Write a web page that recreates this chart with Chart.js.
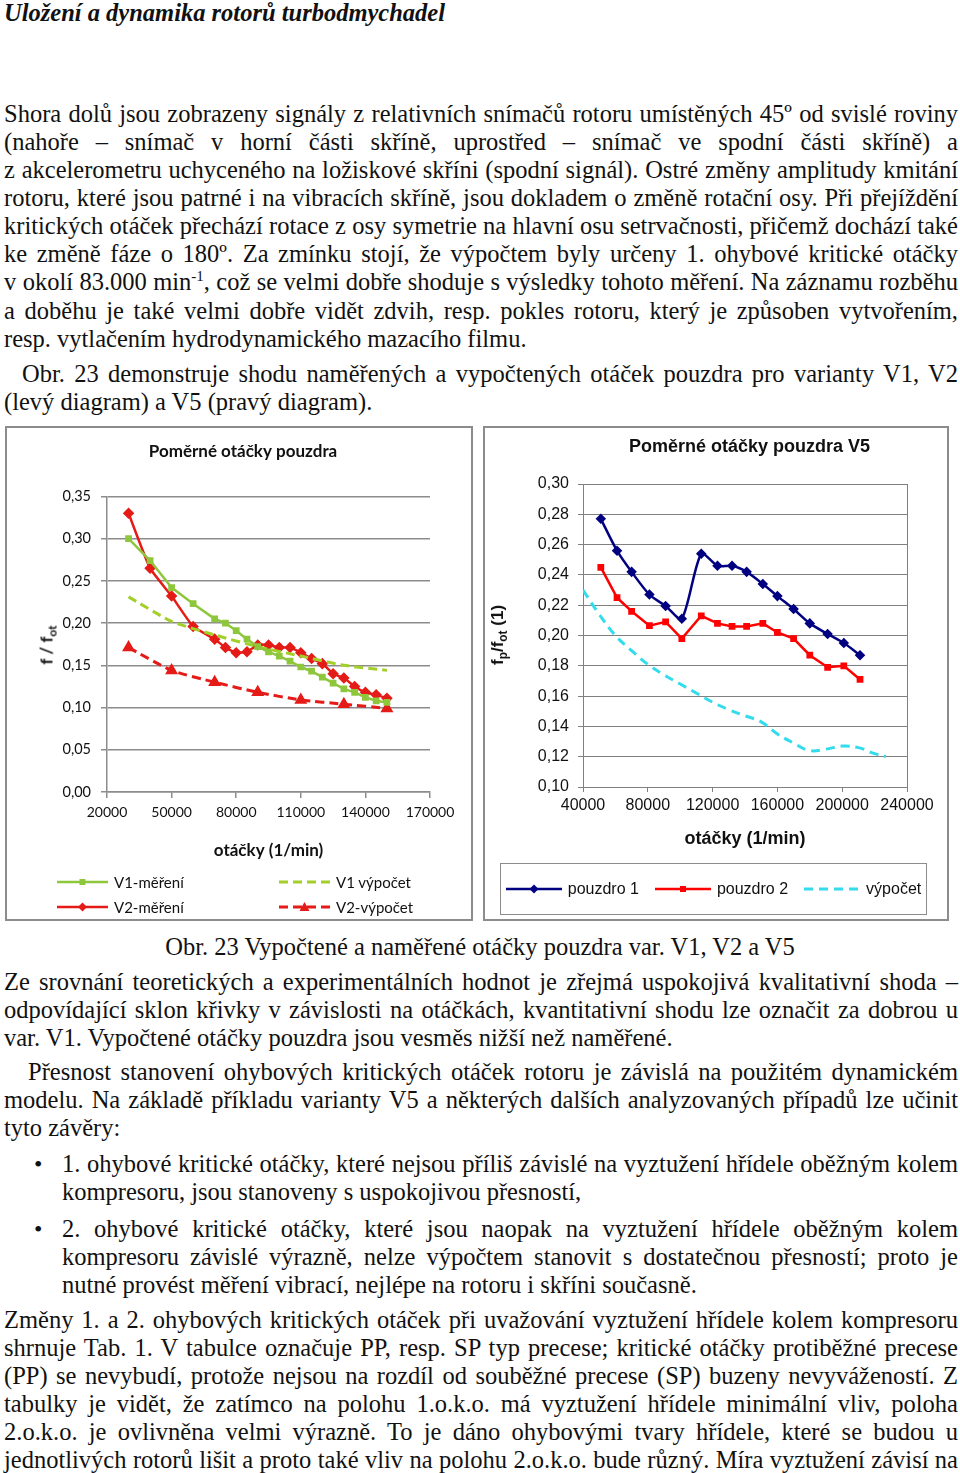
<!DOCTYPE html>
<html lang="cs">
<head>
<meta charset="utf-8">
<title>Poměrné otáčky pouzdra</title>
<script src="https://cdn.jsdelivr.net/npm/chart.js@4.4.1/dist/chart.umd.min.js"></script>
<style>
  html, body { margin: 0; padding: 0; background: #fff; }
  body { width: 960px; height: 1473px; position: relative; overflow: hidden;
         font-family: "Liberation Serif", "Times New Roman", serif; font-size: 24.5px; color: #111; }
  .ln { position: absolute; left: 4px; width: 954px; height: 28px; line-height: 28px; white-space: nowrap; }
  .j { text-align: justify; text-align-last: justify; white-space: normal; }
  .ln sup { font-size: 15px; line-height: 0; vertical-align: 9px; }
  .h1 { font-weight: bold; font-style: italic; top: -1px; }
  .bul { position: absolute; left: 34px; font-size: 24px; line-height: 28px; }
  .frame { position: absolute; box-sizing: border-box; border: 2px solid #8c8c8c; background: #fff; }
  canvas { position: absolute; }
  .ytitle { position: absolute; transform: translate(-50%, -50%) rotate(-90deg); white-space: nowrap; font-weight: bold; }
  .ytitle sub { font-size: 70%; vertical-align: -4px; line-height: 0; }
  #legendL { position: absolute; left: 57px; top: 869px; display: grid;
             grid-template-columns: 222px 200px; grid-auto-rows: 25px;
             font-family: Lato, sans-serif; font-size: 15px; color: #111; }
  #legendR { position: absolute; left: 500px; top: 863px; width: 427px; height: 52px; box-sizing: border-box;
             border: 1px solid #8c8c8c; display: flex; align-items: center; justify-content: center; gap: 16px;
             font-family: "Liberation Sans", Arial, sans-serif; font-size: 16px; color: #111; }
  .item { display: flex; align-items: center; gap: 6px; white-space: nowrap; }
  .item svg { display: block; }
</style>
</head>
<body>

<div class="ln h1">Uložení a dynamika rotorů turbodmychadel</div>

<div class="ln j" style="top:100px">Shora dolů jsou zobrazeny signály z relativních snímačů rotoru umístěných 45º od svislé roviny</div>
<div class="ln j" style="top:128px">(nahoře – snímač v horní části skříně, uprostřed – snímač ve spodní části skříně) a</div>
<div class="ln j" style="top:156px">z akcelerometru uchyceného na ložiskové skříni (spodní signál). Ostré změny amplitudy kmitání</div>
<div class="ln j" style="top:184px">rotoru, které jsou patrné i na vibracích skříně, jsou dokladem o změně rotační osy. Při přejíždění</div>
<div class="ln j" style="top:212px">kritických otáček přechází rotace z osy symetrie na hlavní osu setrvačnosti, přičemž dochází také</div>
<div class="ln j" style="top:240px">ke změně fáze o 180º. Za zmínku stojí, že výpočtem byly určeny 1. ohybové kritické otáčky</div>
<div class="ln j" style="top:268px">v okolí 83.000 min<sup>-1</sup>, což se velmi dobře shoduje s výsledky tohoto měření. Na záznamu rozběhu</div>
<div class="ln j" style="top:297px">a doběhu je také velmi dobře vidět zdvih, resp. pokles rotoru, který je způsoben vytvořením,</div>
<div class="ln" style="top:325px">resp. vytlačením hydrodynamického mazacího filmu.</div>
<div class="ln j" style="top:360px; left:22px; width:936px">Obr. 23 demonstruje shodu naměřených a vypočtených otáček pouzdra pro varianty V1, V2</div>
<div class="ln" style="top:388px">(levý diagram) a V5 (pravý diagram).</div>

<div class="frame" style="left:5px; top:426px; width:468px; height:495px"></div>
<div class="frame" style="left:483px; top:426px; width:466px; height:495px"></div>
<canvas id="chartL" width="460" height="440" style="left:8px; top:430px"></canvas>
<canvas id="chartR" width="476" height="430" style="left:486px; top:430px"></canvas>
<div class="ytitle" style="left:46px; top:645px; font-family:Lato, sans-serif; font-size:17px">f / f<sub>ot</sub></div>
<div class="ytitle" style="left:498px; top:635px; font-family:'Liberation Sans', Arial, sans-serif; font-size:17px">f<sub>p</sub>/f<sub>ot</sub> (1)</div>
<div id="legendL"></div>
<div id="legendR"></div>

<div class="ln" style="top:933px; text-align:center; left:0; width:960px">Obr. 23 Vypočtené a naměřené otáčky pouzdra var. V1, V2 a V5</div>

<div class="ln j" style="top:968px">Ze srovnání teoretických a experimentálních hodnot je zřejmá uspokojivá kvalitativní shoda –</div>
<div class="ln j" style="top:996px">odpovídající sklon křivky v závislosti na otáčkách, kvantitativní shodu lze označit za dobrou u</div>
<div class="ln" style="top:1024px">var. V1. Vypočtené otáčky pouzdra jsou vesměs nižší než naměřené.</div>
<div class="ln j" style="top:1058px; left:28px; width:930px">Přesnost stanovení ohybových kritických otáček rotoru je závislá na použitém dynamickém</div>
<div class="ln j" style="top:1086px">modelu. Na základě příkladu varianty V5 a některých dalších analyzovaných případů lze učinit</div>
<div class="ln" style="top:1114px">tyto závěry:</div>
<div class="bul" style="top:1150px">•</div>
<div class="ln j" style="top:1150px; left:62px; width:896px">1. ohybové kritické otáčky, které nejsou příliš závislé na vyztužení hřídele oběžným kolem</div>
<div class="ln" style="top:1178px; left:62px; width:896px">kompresoru, jsou stanoveny s uspokojivou přesností,</div>
<div class="bul" style="top:1215px">•</div>
<div class="ln j" style="top:1215px; left:62px; width:896px">2. ohybové kritické otáčky, které jsou naopak na vyztužení hřídele oběžným kolem</div>
<div class="ln j" style="top:1243px; left:62px; width:896px">kompresoru závislé výrazně, nelze výpočtem stanovit s dostatečnou přesností; proto je</div>
<div class="ln" style="top:1271px; left:62px; width:896px">nutné provést měření vibrací, nejlépe na rotoru i skříni současně.</div>
<div class="ln j" style="top:1306px">Změny 1. a 2. ohybových kritických otáček při uvažování vyztužení hřídele kolem kompresoru</div>
<div class="ln j" style="top:1334px">shrnuje Tab. 1. V tabulce označuje PP, resp. SP typ precese; kritické otáčky protiběžné precese</div>
<div class="ln j" style="top:1362px">(PP) se nevybudí, protože nejsou na rozdíl od souběžné precese (SP) buzeny nevyvážeností. Z</div>
<div class="ln j" style="top:1390px">tabulky je vidět, že zatímco na polohu 1.o.k.o. má vyztužení hřídele minimální vliv, poloha</div>
<div class="ln j" style="top:1418px">2.o.k.o. je ovlivněna velmi výrazně. To je dáno ohybovými tvary hřídele, které se budou u</div>
<div class="ln j" style="top:1446px">jednotlivých rotorů lišit a proto také vliv na polohu 2.o.k.o. bude různý. Míra vyztužení závisí na</div>

<script>
// levý diagram - varianty V1, V2
const rpmMeas = [30000, 40000, 50000, 60000, 70000, 75000, 80000, 85000, 90000, 95000, 100000,
                 105000, 110000, 115000, 120000, 125000, 130000, 135000, 140000, 145000, 150000];
const v1Meas = [0.300, 0.274, 0.242, 0.223, 0.205, 0.200, 0.191, 0.181, 0.172, 0.166, 0.161,
                0.155, 0.148, 0.143, 0.136, 0.129, 0.122, 0.118, 0.112, 0.108, 0.106];
const v2Meas = [0.330, 0.265, 0.232, 0.196, 0.181, 0.171, 0.165, 0.166, 0.174, 0.174, 0.171,
                0.171, 0.165, 0.158, 0.152, 0.140, 0.135, 0.125, 0.118, 0.115, 0.111];
const rpmCalc = [30000, 50000, 70000, 90000, 110000, 130000, 150000];
const v1Calc = [0.231, 0.202, 0.186, 0.172, 0.161, 0.150, 0.144];
const v2Calc = [0.171, 0.144, 0.130, 0.118, 0.109, 0.104, 0.099];

// pravý diagram - varianta V5
const rpmV5 = [51000, 61000, 70000, 81000, 91000, 101000, 113000, 123000, 132000, 141000,
               151000, 160000, 170000, 180000, 191000, 201000, 211000];
const pouzdro1 = [0.277, 0.256, 0.242, 0.227, 0.2195, 0.211, 0.254, 0.246, 0.246, 0.242,
                  0.234, 0.226, 0.2175, 0.208, 0.201, 0.195, 0.187];
const pouzdro2 = [0.245, 0.225, 0.216, 0.2065, 0.209, 0.198, 0.213, 0.208, 0.206, 0.206,
                  0.208, 0.202, 0.198, 0.187, 0.179, 0.180, 0.171];
const rpmCalcV5 = [40000, 50000, 60000, 70000, 80000, 90000, 100000, 110000, 120000, 130000,
                   140000, 150000, 160000, 170000, 180000, 190000, 200000, 210000, 220000, 227000];
const vypocetV5 = [0.230, 0.214, 0.200, 0.190, 0.181, 0.174, 0.168, 0.162, 0.156, 0.151,
                   0.147, 0.143, 0.135, 0.129, 0.124, 0.125, 0.127, 0.126, 0.122, 0.120];

const ticksL = { x: [20000, 170000, 30000], y: [0, 0.35, 0.05] };
const ticksR = { x: [40000, 240000, 40000], y: [0.10, 0.30, 0.02] };

function pairs(xs, ys) {
    return xs.map((x, i) => ({ x: x, y: ys[i] }));
}

const comma = v => v.toFixed(2).replace(".", ",");

// legenda v HTML (car + znacka), sestavena z datasetu grafu
function buildLegend(chart, el, lineW) {
    chart.data.datasets.forEach(ds => {
        const item = document.createElement("div");
        item.className = "item";
        const c = ds.borderColor;
        const dash = ds.borderDash ? ` stroke-dasharray="${ds.borderDash.join(" ")}"` : "";
        let mark = "";
        const m = lineW / 2;
        if (ds.pointRadius > 0) {
            if (ds.pointStyle === "rect") mark = `<rect x="${m - 3}" y="3" width="6" height="6" fill="${c}"/>`;
            if (ds.pointStyle === "rectRot") mark = `<polygon points="${m},1.5 ${m + 4.5},6 ${m},10.5 ${m - 4.5},6" fill="${c}"/>`;
            if (ds.pointStyle === "triangle") mark = `<polygon points="${m},1 ${m + 5},10 ${m - 5},10" fill="${c}"/>`;
        }
        item.innerHTML = `<svg width="${lineW}" height="12"><line x1="0" y1="6" x2="${lineW}" y2="6" stroke="${c}" stroke-width="${ds.borderWidth}"${dash}/>${mark}</svg><span>${ds.label}</span>`;
        el.appendChild(item);
    });
}

const chartL = new Chart(document.getElementById("chartL"), {
    type: "line",
    data: {
        datasets: [
            { label: "V1-měření", data: pairs(rpmMeas, v1Meas), borderColor: "#8ec63c", backgroundColor: "#8ec63c",
              borderWidth: 2.5, pointStyle: "rect", pointRadius: 3, tension: 0 },
            { label: "V1 výpočet", data: pairs(rpmCalc, v1Calc), borderColor: "#a3cf2a", backgroundColor: "#a3cf2a",
              borderWidth: 3, borderDash: [9, 5], pointRadius: 0, tension: 0.2 },
            { label: "V2-měření", data: pairs(rpmMeas, v2Meas), borderColor: "#e41b17", backgroundColor: "#e41b17",
              borderWidth: 2.5, pointStyle: "rectRot", pointRadius: 4, tension: 0.15 },
            { label: "V2-výpočet", data: pairs(rpmCalc, v2Calc), borderColor: "#e41b17", backgroundColor: "#e41b17",
              borderWidth: 3, borderDash: [9, 5], pointStyle: "triangle", pointRadius: 4.5, tension: 0.2 }
        ]
    },
    options: {
        responsive: false,
        animation: false,
        layout: { padding: { left: 48, right: 38, top: 0, bottom: 0 } },
        plugins: {
            legend: { display: false },
            tooltip: { enabled: false },
            title: { display: true, text: "Poměrné otáčky pouzdra", color: "#111",
                     font: { family: "Lato", size: 17, weight: "bold" }, padding: { top: 11, bottom: 35 } }
        },
        scales: {
            x: {
                type: "linear", min: ticksL.x[0], max: ticksL.x[1],
                ticks: { stepSize: ticksL.x[2], color: "#111", padding: 6, maxRotation: 0,
                         font: { family: "Lato", size: 14 }, callback: v => String(v) },
                grid: { drawOnChartArea: false, tickLength: 6, color: "#8c8c8c", lineWidth: 1.5 },
                border: { color: "#8c8c8c", width: 1.5 },
                title: { display: true, text: "otáčky (1/min)", color: "#111",
                         font: { family: "Lato", size: 17, weight: "bold" }, padding: { top: 0, bottom: 9 } },
                afterFit: s => { s.height = 78; }
            },
            y: {
                min: ticksL.y[0], max: ticksL.y[1],
                ticks: { stepSize: ticksL.y[2], color: "#111", padding: 10,
                         font: { family: "Lato", size: 14.5 }, callback: comma },
                grid: { tickLength: 6, color: "#8c8c8c", lineWidth: 1.5 },
                border: { color: "#8c8c8c", width: 1.5 },
                afterFit: s => { s.width = 51; }
            }
        }
    }
});

const chartR = new Chart(document.getElementById("chartR"), {
    type: "line",
    data: {
        datasets: [
            { label: "pouzdro 1", data: pairs(rpmV5, pouzdro1), borderColor: "#000080", backgroundColor: "#000080",
              borderWidth: 2.5, pointStyle: "rectRot", pointRadius: 3.5, tension: 0.25 },
            { label: "pouzdro 2", data: pairs(rpmV5, pouzdro2), borderColor: "#ff0000", backgroundColor: "#ff0000",
              borderWidth: 2.5, pointStyle: "rect", pointRadius: 3, tension: 0 },
            { label: "výpočet", data: pairs(rpmCalcV5, vypocetV5), borderColor: "#33dcec", backgroundColor: "#33dcec",
              borderWidth: 3, borderDash: [9, 6], pointRadius: 0, tension: 0.4 }
        ]
    },
    options: {
        responsive: false,
        animation: false,
        layout: { padding: { left: 51, right: 0, top: 0, bottom: 0 } },
        plugins: {
            legend: { display: false },
            tooltip: { enabled: false },
            title: { display: true, text: "Poměrné otáčky pouzdra V5", color: "#111",
                     font: { family: "Liberation Sans", size: 18, weight: "bold" }, padding: { top: 6, bottom: 26.4 } }
        },
        scales: {
            x: {
                type: "linear", min: ticksR.x[0], max: ticksR.x[1],
                ticks: { stepSize: ticksR.x[2], color: "#111", padding: 4, maxRotation: 0,
                         font: { family: "Liberation Sans", size: 16 }, callback: v => String(v) },
                grid: { tickLength: 5, tickColor: "#808080", lineWidth: 1,
                        color: c => (c.tick && c.tick.value === ticksR.x[1]) ? "#808080" : "rgba(0,0,0,0)" },
                border: { color: "#808080", width: 1 },
                title: { display: true, text: "otáčky (1/min)", color: "#111",
                         font: { family: "Liberation Sans", size: 18, weight: "bold" }, padding: { top: 0, bottom: 10 } },
                afterFit: s => { s.height = 73; }
            },
            y: {
                min: ticksR.y[0], max: ticksR.y[1],
                ticks: { stepSize: ticksR.y[2], color: "#111", padding: 9,
                         font: { family: "Liberation Sans", size: 16 }, callback: comma },
                grid: { tickLength: 5, color: "#808080", lineWidth: 1 },
                border: { color: "#808080", width: 1 },
                afterFit: s => { s.width = 46; }
            },
            // prazdna osa vpravo jen drzi misto pro okraj grafu
            yPad: {
                position: "right", display: true,
                ticks: { display: false }, grid: { display: false }, border: { display: false },
                afterFit: s => { s.width = 55; }
            }
        }
    }
});

buildLegend(chartL, document.getElementById("legendL"), 51);
buildLegend(chartR, document.getElementById("legendR"), 56);
</script>
</body>
</html>
